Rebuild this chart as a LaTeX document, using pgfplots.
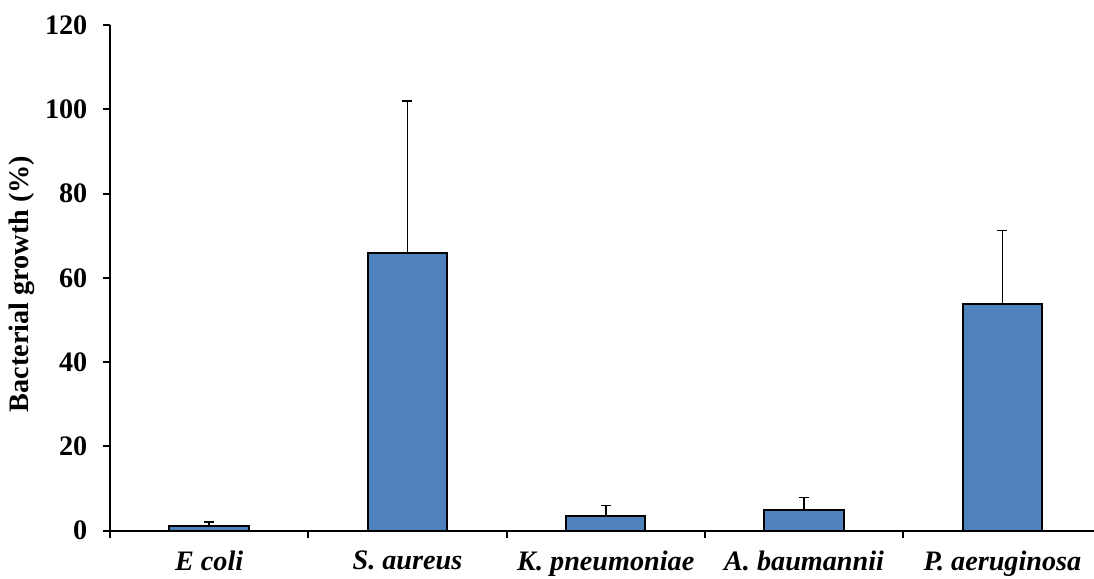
\documentclass[border=0pt]{standalone}
\usepackage{fontspec}
\setmainfont{Liberation Serif}
\usepackage{pgfplots}
\pgfplotsset{compat=1.18}
\definecolor{barblue}{RGB}{79,129,189}

\newcommand{\lblfont}{\bfseries\fontsize{14.1}{16.5}\selectfont}

\begin{document}
\begin{tikzpicture}
\begin{axis}[
  scale only axis,
  width=492pt, height=252.85pt,
  xmin=0, xmax=4.962,
  ymin=0, ymax=120,
  axis lines*=left,
  axis line style={line width=1pt, black},
  ytick={0,20,...,120},
  xtick={0,1,2,3,4},
  xticklabels={},
  tick align=outside,
  major tick length=3.5pt,
  tick style={line width=1pt, black},
  /pgf/number format/assume math mode=true,
  yticklabel style={font=\lblfont, xshift=-4.3pt},
  extra x ticks={0.5,1.5,2.5,3.5,4.5},
  extra x tick labels={E coli, S. aureus, K. pneumoniae, A. baumannii, P. aeruginosa},
  extra x tick style={
    major tick length=0pt,
    tick label style={font=\lblfont\itshape, yshift=-6.5pt}
  },
  ylabel={Bacterial growth (\%)},
  % label is rotated: yshift moves it left, xshift moves it down
  ylabel style={font=\lblfont, at={(rel axis cs:0,0.5)}, anchor=center,
                yshift=44.3pt, xshift=-3pt},
  clip=false,
]
% mean growth with the upper standard deviation
\addplot[ybar, bar width=0.4, fill=barblue, draw=black, line width=1pt,
  error bars/.cd, y dir=plus, y explicit,
  error bar style={line width=0.75pt, black},
  error mark options={rotate=90, mark size=2.5pt, line width=0.75pt, black}]
  coordinates {
    (0.5,1.1)  +- (0,1.0)
    (1.5,65.8) +- (0,36.2)
    (2.5,3.5)  +- (0,2.5)
    (3.5,5.0)  +- (0,2.9)
    (4.5,53.8) +- (0,17.4)
  };
\coordinate (bl) at (rel axis cs:0,0);
\coordinate (tr) at (rel axis cs:1,1);
\end{axis}
\pgfresetboundingbox
\path[use as bounding box] ([xshift=-55pt,yshift=-23.65pt]bl) rectangle ([yshift=12.5pt]tr);
\end{tikzpicture}
\end{document}
